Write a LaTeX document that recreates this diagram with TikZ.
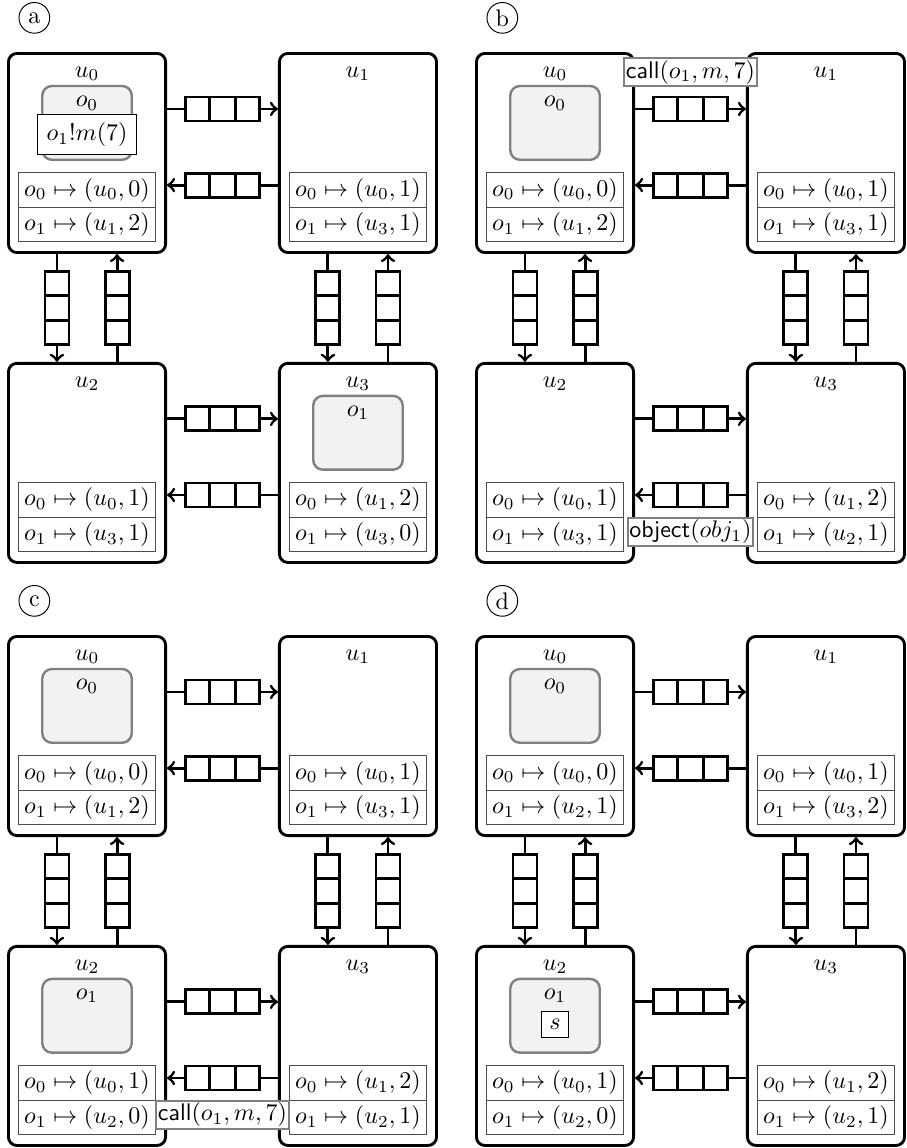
\documentclass[tikz,border=0pt]{standalone}
\usepackage{amssymb}
\usepackage{tikz}
\usetikzlibrary{positioning,shapes.multipart}

\begin{document}
\begin{tikzpicture}[
unitbox/.style={rectangle, draw, very thick, rounded corners=3.5pt, minimum width=2.3cm, minimum height=2.915cm},
uname/.style={anchor=north, inner sep=6pt},
objbox/.style={rectangle, draw=gray, line width=1pt, fill=gray!10, rounded corners=4pt, minimum width=1.31cm, minimum height=1.08cm},
oname/.style={anchor=north, inner sep=4.5pt},
maptable/.style={rectangle split, rectangle split parts=2, draw=black!70, fill=white, inner xsep=0.09cm, inner ysep=2pt},
queue/.style={rectangle split, rectangle split horizontal, rectangle split parts=3, draw, very thick, fill=white, inner xsep=0.09cm, inner ysep=0.1cm, sloped},
link/.style={->, very thick},
msgbox/.style={rectangle, draw, fill=white, inner xsep=3.8pt, inner ysep=3.3pt},
sbox/.style={rectangle, draw, fill=white, inner sep=3.3pt},
tagbox/.style={rectangle, draw=gray, thick, fill=white, inner sep=0.8pt},
panellabel/.style={circle, draw, minimum size=0.45cm, inner sep=0pt}
]
\useasboundingbox (-1.274,2.240) rectangle (11.991,-14.568);

% --- Units and channel queues of the four snapshots ---
\foreach \p/\dx/\dy in {a/0/0, b/6.852/0, c/0/-8.536, d/6.852/-8.536} {
  \node[unitbox, label={[uname]north:$u_0$}] (\p0) at (\dx,\dy) {};
  \node[unitbox, label={[uname]north:$u_1$}, right=1.625cm of \p0] (\p1) {};
  \node[unitbox, label={[uname]north:$u_2$}, below=1.58cm of \p0] (\p2) {};
  \node[unitbox, label={[uname]north:$u_3$}, right=1.625cm of \p2] (\p3) {};
  \node[panellabel] (\p-tag) at ([shift={(0.4,0.5)}]\p0.north west) {\p};

  \draw[link] ([yshift=0.645cm]\p0.east) -- node[queue] (\p-q01) {} ([yshift=0.645cm]\p1.west);
  \draw[link] ([yshift=-0.47cm]\p1.west) -- node[queue] (\p-q10) {} ([yshift=-0.47cm]\p0.east);
  \draw[link] ([yshift=0.645cm]\p2.east) -- node[queue] (\p-q23) {} ([yshift=0.645cm]\p3.west);
  \draw[link] ([yshift=-0.47cm]\p3.west) -- node[queue] (\p-q32) {} ([yshift=-0.47cm]\p2.east);
  \draw[link] ([xshift=-0.44cm]\p0.south) -- node[queue] (\p-q02) {} ([xshift=-0.44cm]\p2.north);
  \draw[link] ([xshift=0.44cm]\p2.north) -- node[queue] (\p-q20) {} ([xshift=0.44cm]\p0.south);
  \draw[link] ([xshift=-0.44cm]\p1.south) -- node[queue] (\p-q13) {} ([xshift=-0.44cm]\p3.north);
  \draw[link] ([xshift=0.44cm]\p3.north) -- node[queue] (\p-q31) {} ([xshift=0.44cm]\p1.south);
}

% --- Location tables ---
\foreach \unit/\ia/\ra/\ib/\rb in {a0/0/0/1/2, a1/0/1/3/1, a2/0/1/3/1, a3/1/2/3/0,
    b0/0/0/1/2, b1/0/1/3/1, b2/0/1/3/1, b3/1/2/2/1,
    c0/0/0/1/2, c1/0/1/3/1, c2/0/1/2/0, c3/1/2/2/1,
    d0/0/0/2/1, d1/0/1/3/2, d2/0/1/2/0, d3/1/2/2/1} {
  \node[maptable, above=0.17cm of \unit.south] (\unit t) {$o_0 \mapsto (u_\ia,\ra)$\nodepart{two}$o_1 \mapsto (u_\ib,\rb)$};
}

% --- Snapshot (a) ---
\node[objbox, below=0.48cm of a0.north, label={[oname]north:$o_0$}] (a0o) {};
\node[msgbox] (a0m) at ([yshift=-0.17cm]a0o.center) {$o_1!m(7)$};
\node[objbox, below=0.48cm of a3.north, label={[oname]north:$o_1$}] (a3o) {};

% --- Snapshot (b) ---
\node[objbox, below=0.48cm of b0.north, label={[oname]north:$o_0$}] (b0o) {};
\node[tagbox, above=3.5pt of b-q01] (b-call) {\textsf{call}$(o_1,m,7)$};
\node[tagbox, below=3.5pt of b-q32] (b-obj) {\textsf{object}$(obj_1)$};

% --- Snapshot (c) ---
\node[objbox, below=0.48cm of c0.north, label={[oname]north:$o_0$}] (c0o) {};
\node[objbox, below=0.48cm of c2.north, label={[oname]north:$o_1$}] (c2o) {};
\node[tagbox, below=3.5pt of c-q32] (c-call) {\textsf{call}$(o_1,m,7)$};

% --- Snapshot (d) ---
\node[objbox, below=0.48cm of d0.north, label={[oname]north:$o_0$}] (d0o) {};
\node[objbox, below=0.48cm of d2.north, label={[oname]north:$o_1$}] (d2o) {};
\node[sbox] (d2s) at ([yshift=-0.13cm]d2o.center) {$s$};

\end{tikzpicture}
\end{document}
